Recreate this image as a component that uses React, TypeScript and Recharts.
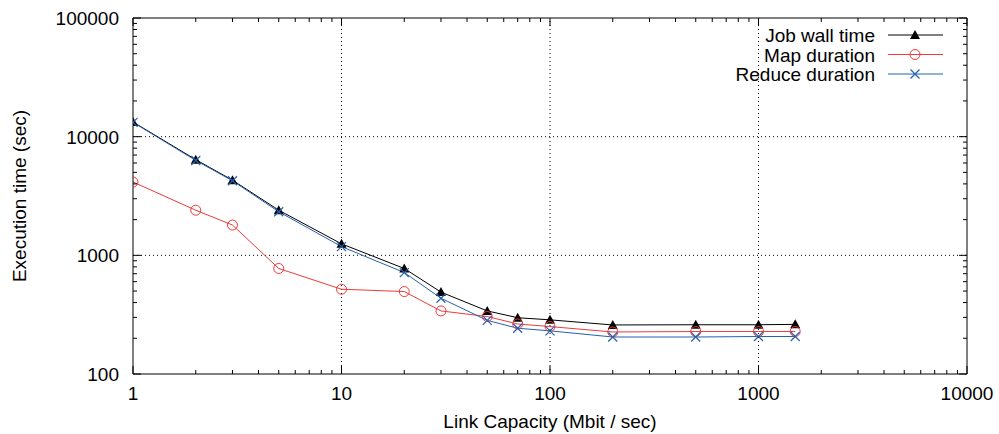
import React from 'react';
import { LineChart, Line, XAxis, YAxis, ReferenceLine, Legend, Label } from 'recharts';

const capacities = [1, 2, 3, 5, 10, 20, 30, 50, 70, 100, 200, 500, 1000, 1500];
const jobWallTime = [13300, 6400, 4300, 2400, 1250, 775, 490, 340, 298, 286, 259, 260, 260, 262];
const mapDuration = [4150, 2400, 1800, 775, 518, 495, 340, 305, 264, 251, 226, 228, 228, 228];
const reduceDuration = [13200, 6300, 4250, 2330, 1185, 716, 435, 283, 243, 231, 205, 205, 207, 207];

const xMajorTicks = [1, 10, 100, 1000, 10000];
const yMajorTicks = [100, 1000, 10000, 100000];
const xGridLines = [10, 100, 1000];
const yGridLines = [1000, 10000];
const minorSteps = [2, 3, 4, 5, 6, 7, 8, 9];

const withMinor = (majors: number[]) =>
  [...majors, ...majors.slice(0, -1).flatMap((m) => minorSteps.map((k) => m * k))].sort((a, b) => a - b);
const xAllTicks = withMinor(xMajorTicks);
const yAllTicks = withMinor(yMajorTicks);

const data = capacities.map((c, i) => ({
  capacity: c,
  job: jobWallTime[i],
  map: mapDuration[i],
  reduce: reduceDuration[i],
}));

const RED = '#ee3a3a';
const BLUE = '#2462b0';
const FONT = '"Liberation Sans", Arial, Helvetica, sans-serif';
const MAJOR = 8;
const MINOR = 4;

const Triangle = ({ cx, cy }: { cx: number; cy: number }) => (
  <polygon points={`${cx},${cy - 5} ${cx - 5},${cy + 4} ${cx + 5},${cy + 4}`} fill="#000" />
);
const Circle = ({ cx, cy }: { cx: number; cy: number }) => (
  <circle cx={cx} cy={cy} r={5} fill="none" stroke={RED} strokeWidth={1} />
);
const Cross = ({ cx, cy }: { cx: number; cy: number }) => (
  <g stroke={BLUE} strokeWidth={1.2}>
    <line x1={cx - 4.5} y1={cy - 4.5} x2={cx + 4.5} y2={cy + 4.5} />
    <line x1={cx - 4.5} y1={cy + 4.5} x2={cx + 4.5} y2={cy - 4.5} />
  </g>
);

const series = [
  { key: 'job', name: 'Job wall time', color: '#000', Marker: Triangle },
  { key: 'map', name: 'Map duration', color: RED, Marker: Circle },
  { key: 'reduce', name: 'Reduce duration', color: BLUE, Marker: Cross },
];

const BottomTick = (props: any) => {
  const { x, y, payload } = props;
  const major = xMajorTicks.includes(payload.value);
  return (
    <g>
      <line x1={x} y1={y} x2={x} y2={y - (major ? MAJOR : MINOR)} stroke="#000" />
      {major && (
        <text x={x} y={y + 26} textAnchor="middle" fontSize={19} fill="#000" fontFamily={FONT}>
          {payload.value}
        </text>
      )}
    </g>
  );
};
const TopTick = (props: any) => {
  const { x, y, payload } = props;
  const major = xMajorTicks.includes(payload.value);
  return <line x1={x} y1={y} x2={x} y2={y + (major ? MAJOR : MINOR)} stroke="#000" />;
};
const LeftTick = (props: any) => {
  const { x, y, payload } = props;
  const major = yMajorTicks.includes(payload.value);
  return (
    <g>
      <line x1={x} y1={y} x2={x + (major ? MAJOR : MINOR)} y2={y} stroke="#000" />
      {major && (
        <text x={x - 14} y={y + 7} textAnchor="end" fontSize={19} fill="#000" fontFamily={FONT}>
          {payload.value}
        </text>
      )}
    </g>
  );
};
const RightTick = (props: any) => {
  const { x, y, payload } = props;
  const major = yMajorTicks.includes(payload.value);
  return <line x1={x} y1={y} x2={x - (major ? MAJOR : MINOR)} y2={y} stroke="#000" />;
};

const LegendBox = () => (
  <svg width={320} height={70} style={{ display: 'block' }}>
    {series.map((s, i) => {
      const cy = 13 + i * 19.5;
      const M = s.Marker;
      return (
        <g key={s.key}>
          <text x={235} y={cy + 7} textAnchor="end" fontSize={19} fill="#000" fontFamily={FONT}>
            {s.name}
          </text>
          <line x1={248} y1={cy} x2={303} y2={cy} stroke={s.color} strokeWidth={1} />
          <M cx={275} cy={cy} />
        </g>
      );
    })}
  </svg>
);

const axisCommonX = {
  type: 'number' as const,
  scale: 'log' as const,
  domain: [1, 10000],
  allowDataOverflow: true,
  interval: 0 as const,
  tickSize: 0,
  tickMargin: 0,
  tickLine: false,
  axisLine: { stroke: '#000', strokeWidth: 1 },
};
const axisCommonY = {
  type: 'number' as const,
  scale: 'log' as const,
  domain: [100, 100000],
  allowDataOverflow: true,
  interval: 0 as const,
  tickSize: 0,
  tickMargin: 0,
  tickLine: false,
  axisLine: { stroke: '#000', strokeWidth: 1 },
};

export default function App() {
  return (
    <div style={{ width: 999, height: 434, background: '#fff', position: 'relative' }}>
      <style>{`body{margin:0;}`}</style>
      <LineChart
        width={999}
        height={434}
        data={data}
        margin={{ top: 17, right: 31, bottom: 0, left: 0 }}
        style={{ fontFamily: FONT }}
      >
        <XAxis {...axisCommonX} dataKey="capacity" ticks={xAllTicks} tick={<BottomTick />} height={60}>
          <Label
            content={(p: any) => {
              const vb = p.viewBox;
              return (
                <text x={vb.x + vb.width / 2} y={vb.y + 54} textAnchor="middle" fontSize={19} fill="#000" fontFamily={FONT}>
                  Link Capacity (Mbit / sec)
                </text>
              );
            }}
          />
        </XAxis>
        <XAxis
          {...axisCommonX}
          xAxisId="top"
          orientation="top"
          dataKey="capacity"
          ticks={xAllTicks}
          tick={<TopTick />}
          height={1}
        />
        <YAxis {...axisCommonY} ticks={yAllTicks} tick={<LeftTick />} width={133}>
          <Label
            content={(p: any) => {
              const vb = p.viewBox;
              return (
                <text
                  transform={`translate(19, ${vb.y + vb.height / 2}) rotate(-90)`}
                  textAnchor="middle"
                  dy="0.35em"
                  fontSize={19}
                  fill="#000"
                  fontFamily={FONT}
                >
                  Execution time (sec)
                </text>
              );
            }}
          />
        </YAxis>
        <YAxis
          {...axisCommonY}
          yAxisId="right"
          orientation="right"
          ticks={yAllTicks}
          tick={<RightTick />}
          width={1}
        />
        {xGridLines.map((v) => (
          <ReferenceLine key={`gx${v}`} x={v} stroke="#000" strokeWidth={1} strokeDasharray="1 3" />
        ))}
        {yGridLines.map((v) => (
          <ReferenceLine key={`gy${v}`} y={v} stroke="#000" strokeWidth={1} strokeDasharray="1 3" />
        ))}
        <Legend
          layout="vertical"
          align="center"
          verticalAlign="middle"
          wrapperStyle={{ position: 'absolute', left: 640, top: 22, width: 320 }}
          content={() => <LegendBox />}
        />
        <Line
          xAxisId="top"
          yAxisId="right"
          dataKey="job"
          stroke="none"
          dot={false}
          activeDot={false}
          legendType="none"
          isAnimationActive={false}
        />
        {series.map((s) => {
          const M = s.Marker;
          return (
            <Line
              key={s.key}
              dataKey={s.key}
              name={s.name}
              stroke={s.color}
              strokeWidth={1}
              isAnimationActive={false}
              dot={(p: any) => <M key={`${s.key}-${p.index}`} cx={p.cx} cy={p.cy} />}
              activeDot={false}
            />
          );
        })}
      </LineChart>
    </div>
  );
}
